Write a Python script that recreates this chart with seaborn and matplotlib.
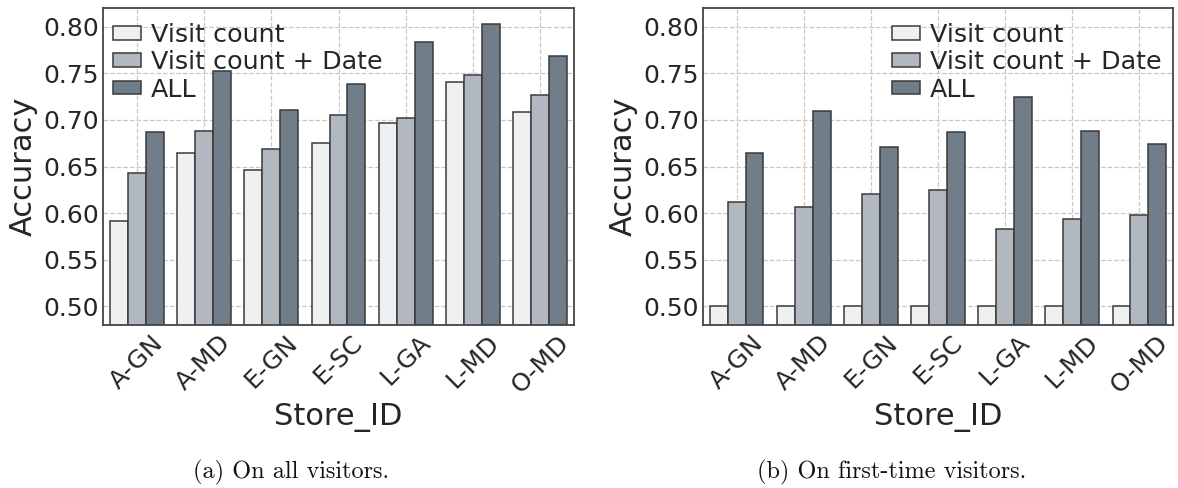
import matplotlib
matplotlib.use("Agg")
import matplotlib.pyplot as plt
import seaborn as sns
import pandas as pd

stores = ["A-GN", "A-MD", "E-GN", "E-SC", "L-GA", "L-MD", "O-MD"]
methods = ["Visit count", "Visit count + Date", "ALL"]

# Accuracy on all visitors
all_visit = [0.592, 0.664, 0.646, 0.675, 0.697, 0.741, 0.708]
all_visit_date = [0.643, 0.688, 0.669, 0.705, 0.702, 0.748, 0.727]
all_full = [0.687, 0.752, 0.711, 0.738, 0.783, 0.803, 0.769]

# Accuracy on first-time visitors
new_visit = [0.500, 0.500, 0.500, 0.500, 0.500, 0.500, 0.500]
new_visit_date = [0.612, 0.607, 0.621, 0.625, 0.583, 0.594, 0.598]
new_full = [0.665, 0.709, 0.671, 0.687, 0.725, 0.688, 0.674]

yticks = [0.50, 0.55, 0.60, 0.65, 0.70, 0.75, 0.80]
captions = ["(a) On all visitors.", "(b) On first-time visitors."]

palette = ["#eff0f2", "#b2b8c0", "#717d89"]
text_color = "#262626"


def to_frame(series):
    rows = []
    for method, values in zip(methods, series):
        for store, v in zip(stores, values):
            rows.append({"Store_ID": store, "Method": method, "Accuracy": v})
    return pd.DataFrame(rows)


sns.set_style("whitegrid", {
    "grid.linestyle": "--",
    "grid.color": "#c8c8c8",
    "axes.edgecolor": "#444444",
    "text.color": text_color,
    "axes.labelcolor": text_color,
    "xtick.color": text_color,
    "ytick.color": text_color,
})
plt.rcParams["font.family"] = ["DejaVu Sans"]

W, H = 1178, 488
fig = plt.figure(figsize=(W / 100, H / 100), dpi=100)

panels = [
    (to_frame([all_visit, all_visit_date, all_full]), (103, 8, 574, 325),
     dict(loc="upper left", bbox_to_anchor=(0.0, 0.985)), 291),
    (to_frame([new_visit, new_visit_date, new_full]), (703, 8, 1173, 325),
     dict(loc="upper right", bbox_to_anchor=(0.998, 0.985)), 892),
]

for i, (df, (x0, y0, x1, y1), leg_kw, cap_x) in enumerate(panels):
    ax = fig.add_axes([x0 / W, 1 - y1 / H, (x1 - x0) / W, (y1 - y0) / H])
    sns.barplot(data=df, x="Store_ID", y="Accuracy", hue="Method",
                hue_order=methods, palette=palette, ax=ax,
                edgecolor="#3a3a3a", linewidth=1.1, saturation=1,
                width=0.8, errorbar=None)
    ax.set_ylim(0.48, 0.82)
    ax.set_xlim(-0.5, 6.5)
    ax.set_yticks(yticks)
    ax.set_yticklabels([f"{t:.2f}" for t in yticks], fontsize=18)
    ax.set_xticks(range(len(stores)))
    ax.set_xticklabels(stores, fontsize=18, rotation=45, ha="center")
    ax.tick_params(axis="y", length=0, pad=3)
    ax.tick_params(axis="x", length=0, pad=4)
    ax.set_xlabel("Store_ID", fontsize=22, labelpad=4)
    ax.set_ylabel("Accuracy", fontsize=22, labelpad=4)
    ax.grid(True, axis="both", linestyle="--", color="#c8c8c8", linewidth=0.9)
    ax.set_axisbelow(True)
    for s in ax.spines.values():
        s.set_linewidth(1.3)
        s.set_color("#444444")
    ax.legend(frameon=False, fontsize=18.3, handlelength=1.1, handleheight=0.45,
              handletextpad=0.4, labelspacing=0.13, borderaxespad=0.2,
              borderpad=0.2, **leg_kw)
    fig.text(cap_x / W, 1 - 472 / H, captions[i],
             family="cmr10", fontsize=17.5, ha="center", va="center",
             color="#111111")

fig.savefig("out.png", dpi=100)
